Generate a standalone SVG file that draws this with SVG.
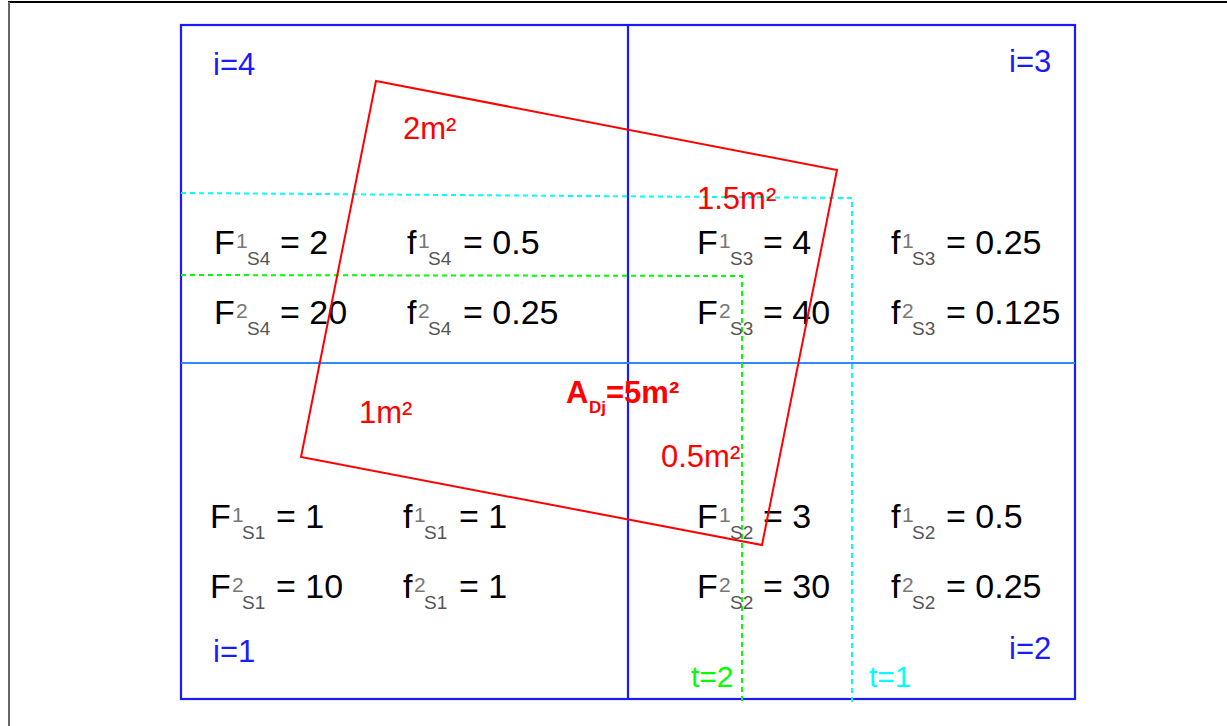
<svg xmlns="http://www.w3.org/2000/svg" width="1227" height="726" viewBox="0 0 1227 726">
<style>
.lbl{font-family:"Liberation Sans",Arial,sans-serif;font-size:34px;fill:#000}
.sup{font-size:21px;fill:#777}
.sub{font-size:19px;fill:#555}
.blue{font-family:"Liberation Sans",Arial,sans-serif;font-size:31px;fill:#1a1aff}
.red{font-family:"Liberation Sans",Arial,sans-serif;font-size:31px;fill:#ff0000}
</style>
<rect width="1227" height="726" fill="#fff"/>
<g id="frame">
<line x1="8" y1="2" x2="1227" y2="2" stroke="#000" stroke-width="2"/>
<line x1="9" y1="2" x2="9" y2="726" stroke="#666" stroke-width="2"/>
</g>
<g id="grid" fill="none" stroke-width="2.2">
<rect x="181" y="25" width="894" height="674" stroke="#1a1aff"/>
<line x1="628" y1="25" x2="628" y2="699" stroke="#1a1aff"/>
<line x1="181" y1="363" x2="1075" y2="363" stroke="#2f8cff"/>
</g>
<g id="connectors" fill="none" stroke-width="2" stroke-dasharray="5,4">
<polyline points="181,193 852,198 852,703" stroke="#00ffff"/>
<polyline points="181,275 742,276 742,703" stroke="#00ff00"/>
</g>
<g id="cell4">
<text class="blue" x="213" y="75">i=4</text>
<text class="lbl" y="254"><tspan x="214">F</tspan><tspan class="sup" x="236" y="248">1</tspan><tspan class="sub" x="247" y="265">S4</tspan><tspan x="280" y="254">= 2</tspan></text>
<text class="lbl" y="254"><tspan x="407">f</tspan><tspan class="sup" x="418" y="248">1</tspan><tspan class="sub" x="428" y="265">S4</tspan><tspan x="463" y="254">= 0.5</tspan></text>
<text class="lbl" y="324"><tspan x="214">F</tspan><tspan class="sup" x="236" y="318">2</tspan><tspan class="sub" x="247" y="335">S4</tspan><tspan x="280" y="324">= 20</tspan></text>
<text class="lbl" y="324"><tspan x="407">f</tspan><tspan class="sup" x="418" y="318">2</tspan><tspan class="sub" x="428" y="335">S4</tspan><tspan x="463" y="324">= 0.25</tspan></text>
</g>
<g id="cell3">
<text class="blue" x="1009" y="72">i=3</text>
<text class="lbl" y="254"><tspan x="697">F</tspan><tspan class="sup" x="719" y="248">1</tspan><tspan class="sub" x="730" y="265">S3</tspan><tspan x="763" y="254">= 4</tspan></text>
<text class="lbl" y="254"><tspan x="891">f</tspan><tspan class="sup" x="902" y="248">1</tspan><tspan class="sub" x="912" y="265">S3</tspan><tspan x="946" y="254">= 0.25</tspan></text>
<text class="lbl" y="324"><tspan x="697">F</tspan><tspan class="sup" x="719" y="318">2</tspan><tspan class="sub" x="730" y="335">S3</tspan><tspan x="763" y="324">= 40</tspan></text>
<text class="lbl" y="324"><tspan x="891">f</tspan><tspan class="sup" x="902" y="318">2</tspan><tspan class="sub" x="912" y="335">S3</tspan><tspan x="946" y="324">= 0.125</tspan></text>
</g>
<g id="cell1">
<text class="blue" x="213" y="662">i=1</text>
<text class="lbl" y="528"><tspan x="210">F</tspan><tspan class="sup" x="232" y="522">1</tspan><tspan class="sub" x="242" y="539">S1</tspan><tspan x="276" y="528">= 1</tspan></text>
<text class="lbl" y="528"><tspan x="403">f</tspan><tspan class="sup" x="414" y="522">1</tspan><tspan class="sub" x="424" y="539">S1</tspan><tspan x="459" y="528">= 1</tspan></text>
<text class="lbl" y="598"><tspan x="210">F</tspan><tspan class="sup" x="232" y="592">2</tspan><tspan class="sub" x="242" y="609">S1</tspan><tspan x="276" y="598">= 10</tspan></text>
<text class="lbl" y="598"><tspan x="403">f</tspan><tspan class="sup" x="414" y="592">2</tspan><tspan class="sub" x="424" y="609">S1</tspan><tspan x="459" y="598">= 1</tspan></text>
</g>
<g id="cell2">
<text class="blue" x="1009" y="659">i=2</text>
<text class="lbl" y="528"><tspan x="697">F</tspan><tspan class="sup" x="719" y="522">1</tspan><tspan class="sub" x="730" y="539">S2</tspan><tspan x="763" y="528">= 3</tspan></text>
<text class="lbl" y="528"><tspan x="891">f</tspan><tspan class="sup" x="902" y="522">1</tspan><tspan class="sub" x="912" y="539">S2</tspan><tspan x="946" y="528">= 0.5</tspan></text>
<text class="lbl" y="598"><tspan x="697">F</tspan><tspan class="sup" x="719" y="592">2</tspan><tspan class="sub" x="730" y="609">S2</tspan><tspan x="763" y="598">= 30</tspan></text>
<text class="lbl" y="598"><tspan x="891">f</tspan><tspan class="sup" x="902" y="592">2</tspan><tspan class="sub" x="912" y="609">S2</tspan><tspan x="946" y="598">= 0.25</tspan></text>
</g>
<g id="time-labels">
<text x="691" y="687" style="font-family:'Liberation Sans',Arial,sans-serif;font-size:30px;fill:#00ff00">t=2</text>
<text x="869" y="687" style="font-family:'Liberation Sans',Arial,sans-serif;font-size:30px;fill:#00ffff">t=1</text>
</g>
<g id="area">
<polygon points="376,81 837,170 762,545 301,457" fill="none" stroke="#ff0000" stroke-width="2"/>
<text class="red" x="403" y="139">2m²</text>
<text class="red" x="697" y="209">1.5m²</text>
<text class="red" x="359" y="423">1m²</text>
<text class="red" x="661" y="467">0.5m²</text>
<text class="red" y="403" font-weight="bold" font-size="32"><tspan x="566">A</tspan><tspan x="589" y="413" font-size="17">Dj</tspan><tspan x="606" y="403">=5m²</tspan></text>
</g>
</svg>
